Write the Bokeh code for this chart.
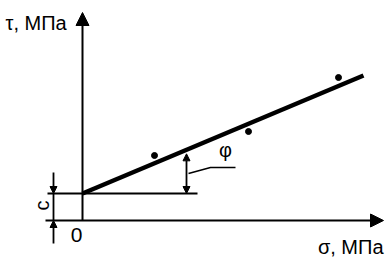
from bokeh.plotting import figure
from bokeh.models import Range1d, Arrow, NormalHead, Label
from bokeh.embed import file_html
from bokeh.resources import INLINE

# --- data (abstract units, σ and τ in МПа) ---
sigma_pts = [7.2, 16.6, 25.6]
tau_pts = [6.5, 8.9, 14.3]
c = 2.7              # cohesion (intercept)
tan_phi = 0.42       # slope of the envelope
sigma_line = [0.0, 28.1]
tau_line = [c + tan_phi * s for s in sigma_line]
x_label = "σ, МПа"
y_label = "τ, МПа"
phi_label = "φ"
c_label = "c"
zero_label = "0"

FONT = "Liberation Sans"

p = figure(width=388, height=258, x_range=Range1d(-8.2, 30.6), y_range=Range1d(-3.8, 22.0),
           x_axis_type=None, y_axis_type=None, toolbar_location=None,
           output_backend="svg", min_border=0)
p.grid.visible = False
p.outline_line_color = None
p.background_fill_color = "white"

x_min, x_max = -3.7, 30.1
y_max = 20.8

# axes with arrows
p.add_layout(Arrow(end=NormalHead(size=13, fill_color="black", line_color="black", line_width=1),
                   x_start=x_min, y_start=0, x_end=x_max, y_end=0, line_width=2, line_color="black"))
p.add_layout(Arrow(end=NormalHead(size=13, fill_color="black", line_color="black", line_width=1),
                   x_start=0, y_start=0, x_end=0, y_end=y_max, line_width=2, line_color="black"))

# horizontal line at c level
p.line([x_min + 0.2, 11.5], [c, c], line_width=2, color="black")

# dimension for c
xd = -2.9
p.line([xd, xd], [0, c], line_width=1.8, color="black")
p.add_layout(Arrow(end=NormalHead(size=7, fill_color="black", line_color="black", line_width=1),
                   x_start=xd, y_start=c + 2.1, x_end=xd, y_end=c, line_width=1.8, line_color="black"))
p.add_layout(Arrow(end=NormalHead(size=7, fill_color="black", line_color="black", line_width=1),
                   x_start=xd, y_start=-2.3, x_end=xd, y_end=0, line_width=1.8, line_color="black"))

# envelope line
p.line(sigma_line, tau_line, line_width=4.5, color="black", line_cap="butt")

# test points
p.scatter(sigma_pts, tau_pts, size=6, color="black")

# angle φ arrow
xa = 10.4
p.add_layout(Arrow(start=NormalHead(size=7, fill_color="black", line_color="black", line_width=1),
                   end=NormalHead(size=7, fill_color="black", line_color="black", line_width=1),
                   x_start=xa, y_start=c, x_end=xa, y_end=c + tan_phi * xa - 0.4,
                   line_width=1.8, line_color="black"))
p.line([xa + 0.2, 12.8, 15.3], [4.7, 5.3, 5.3], line_width=1.5, color="black")

# texts
p.add_layout(Label(x=-7.7, y=19.8, text=y_label, text_font=FONT, text_font_size="20px",
                   text_baseline="alphabetic", text_align="left", text_color="black"))
p.add_layout(Label(x=30.1, y=-2.6, text=x_label, text_font=FONT, text_font_size="20px",
                   text_baseline="alphabetic", text_align="right", text_color="black"))
p.add_layout(Label(x=-0.6, y=-1.4, text=zero_label, text_font=FONT, text_font_size="21px",
                   text_baseline="alphabetic", text_align="center", text_color="black"))
p.add_layout(Label(x=-4.1, y=1.5, text=c_label, text_font=FONT, text_font_size="20px",
                   text_baseline="middle", text_align="center", angle=1.5708, text_color="black"))
p.add_layout(Label(x=14.3, y=7.1, text=phi_label, text_font=FONT, text_font_size="20px",
                   text_baseline="middle", text_align="center", text_color="black"))

open("out.html", "w").write(file_html(p, INLINE))
